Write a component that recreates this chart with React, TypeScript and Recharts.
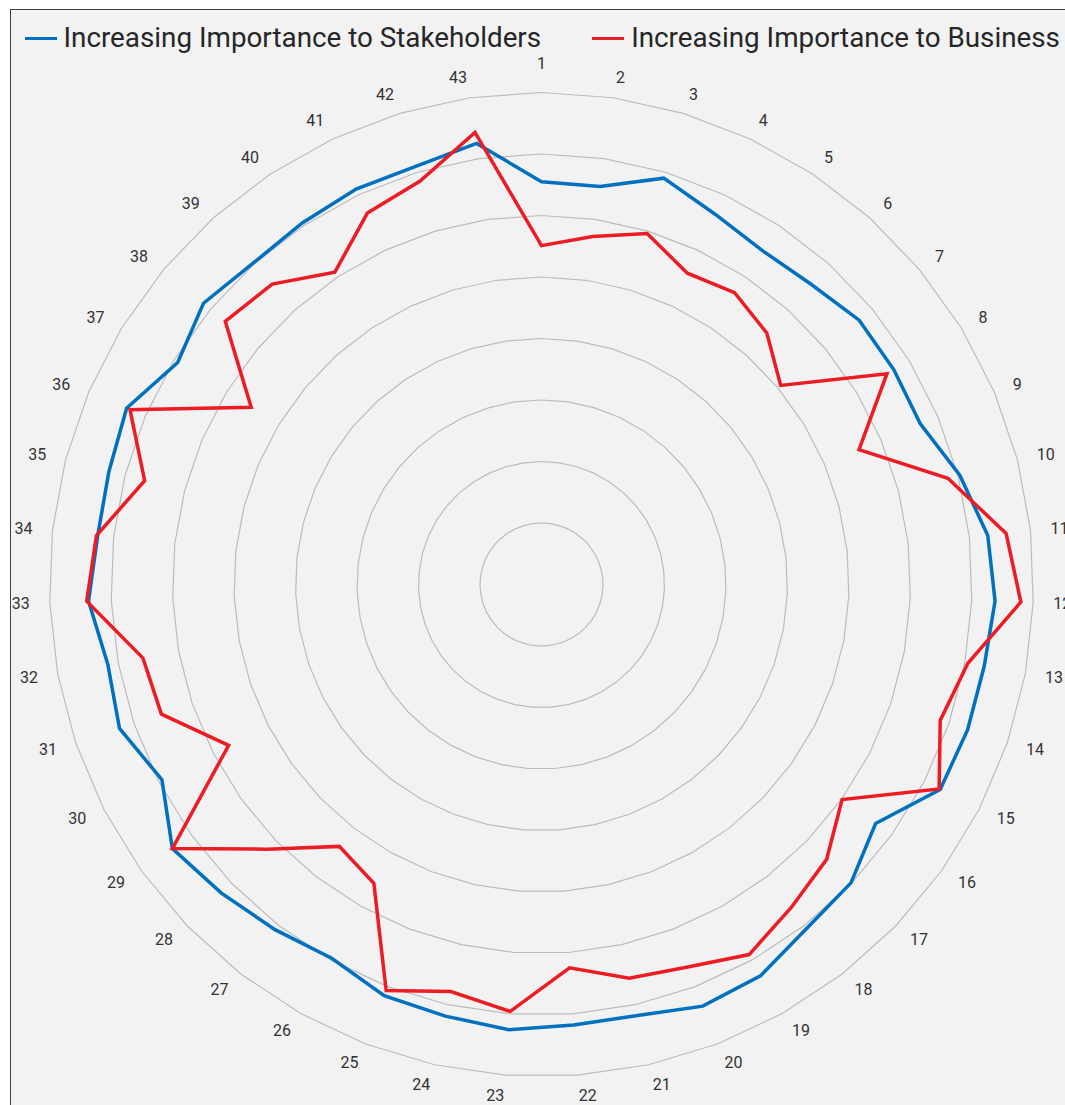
import { Legend, PolarAngleAxis, PolarGrid, PolarRadiusAxis, Radar, RadarChart } from "recharts";

const categories = [
  "1", "2", "3", "4", "5", "6", "7", "8", "9", "10", "11", "12", "13", "14", "15",
  "16", "17", "18", "19", "20", "21", "22", "23", "24", "25", "26", "27", "28", "29", "30",
  "31", "32", "33", "34", "35", "36", "37", "38", "39", "40", "41", "42", "43",
];

const stakeholders = [
  6.55, 6.54, 6.9, 6.65, 6.51, 6.56, 6.72, 6.71, 6.69, 7.03, 7.3, 7.38, 7.32, 7.32, 7.29,
  6.68, 6.99, 7.06, 7.29, 7.34, 7.18, 7.18, 7.26, 7.19, 7.16, 6.97, 7.09, 7.23, 7.38, 6.94,
  7.25, 7.17, 7.37, 7.26, 7.27, 7.33, 6.93, 7.15, 7.02, 7.05, 7.1, 7.1, 7.25,
];

const business = [
  5.51, 5.72, 5.96, 5.59, 5.69, 5.49, 5.06, 6.58, 5.61, 6.83, 7.6, 7.8, 7.05, 6.85, 7.27,
  6.01, 6.44, 6.64, 6.9, 6.66, 6.56, 6.25, 6.96, 6.78, 7.07, 5.57, 5.38, 6.2, 7.38, 5.72,
  6.53, 6.59, 7.4, 7.28, 6.67, 7.27, 5.53, 6.69, 6.56, 6.09, 6.67, 6.85, 7.43,
];

const seriesOrder = ["stake", "biz"];

const data = categories.map((cat, i) => ({
  cat,
  stake: stakeholders[i],
  biz: business[i],
}));

const CX = 530.5;
const CY = 574.5;

function AngleTick(props: any) {
  const { x, y, payload } = props;
  const cx = props.cx ?? CX;
  const cy = props.cy ?? CY;
  const dx = x - cx;
  const dy = y - cy;
  const d = Math.hypot(dx, dy);
  const r = d + 12;
  const px = cx + (dx / d) * r;
  const py = cy + (dy / d) * r;
  const ux = dx / d;
  const anchor = Math.abs(ux) < 0.01 ? "middle" : ux > 0 ? "start" : "end";
  const shift = anchor === "middle" ? (dy < 0 ? -9 : 9) : 0;
  return (
    <text
      x={px}
      y={py + shift}
      textAnchor={anchor}
      dominantBaseline="central"
      fontFamily="Roboto"
      fontSize={16}
      fill="#333333"
    >
      {payload.value}
    </text>
  );
}

function LegendContent({ payload }: any) {
  const items = [...(payload || [])].sort(
    (a: any, b: any) => seriesOrder.indexOf(a.dataKey) - seriesOrder.indexOf(b.dataKey)
  );
  return (
    <div
      style={{
        display: "flex",
        alignItems: "center",
        whiteSpace: "nowrap",
        fontFamily: "Roboto",
        fontSize: 27.8,
        lineHeight: "36px",
        color: "#262626",
      }}
    >
      {items.map((p: any) => (
        <div key={p.value} style={{ display: "flex", alignItems: "center", marginRight: 51 }}>
          <span
            style={{
              display: "inline-block",
              width: 32,
              height: 3.5,
              marginTop: 2,
              marginRight: 7,
              background: p.color,
            }}
          />
          <span>{p.value}</span>
        </div>
      ))}
    </div>
  );
}

export default function App() {
  return (
    <div
      style={{
        position: "fixed",
        left: 0,
        top: 0,
        width: 1065,
        height: 1105,
        overflow: "hidden",
        background: "#ffffff",
      }}
    >
      <div
        style={{
          position: "absolute",
          left: 10,
          top: 9,
          width: 1120,
          height: 1120,
          border: "1.5px solid #404040",
          background: "#f2f2f2",
        }}
      >
        <RadarChart
          width={1120}
          height={1120}
          data={data}
          cx={CX}
          cy={CY}
          outerRadius={492}
          margin={{ top: 0, right: 0, bottom: 0, left: 0 }}
        >
          <PolarGrid gridType="polygon" radialLines={false} stroke="#bcbcbc" strokeWidth={1.2} />
          <PolarAngleAxis dataKey="cat" tickLine={false} axisLine={false} tick={<AngleTick />} />
          <PolarRadiusAxis domain={[0, 8]} tickCount={9} tick={false} axisLine={false} />
          <Legend
            verticalAlign="middle"
            align="left"
            content={<LegendContent />}
            wrapperStyle={{ top: 9.5, left: 13.5 }}
          />
          <Radar
            name="Increasing Importance to Stakeholders"
            dataKey="stake"
            stroke="#0070c0"
            strokeWidth={3.5}
            fill="none"
            fillOpacity={0}
            dot={false}
            isAnimationActive={false}
          />
          <Radar
            name="Increasing Importance to Business"
            dataKey="biz"
            stroke="#ed1c24"
            strokeWidth={3.5}
            fill="none"
            fillOpacity={0}
            dot={false}
            isAnimationActive={false}
          />
        </RadarChart>
      </div>
    </div>
  );
}
